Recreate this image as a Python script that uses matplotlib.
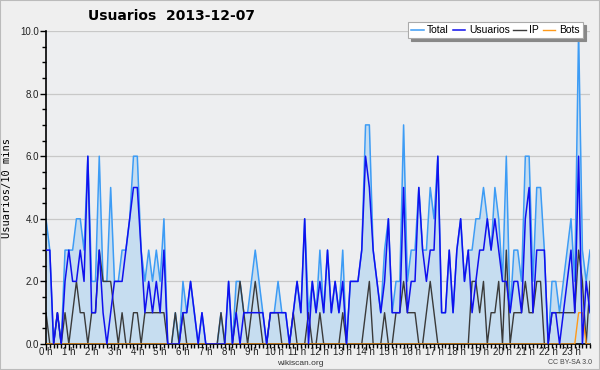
import matplotlib
matplotlib.use("Agg")
import matplotlib.pyplot as plt
from matplotlib.ticker import MultipleLocator, FixedLocator

title = "Usuarios  2013-12-07"
ylabel = "Usuarios/10 mins"
hour_labels = [f"{h} h" for h in range(24)]
series_names = ["Total", "Usuarios", "IP", "Bots"]

total = [4, 3, 0, 1, 0, 3, 3, 3, 4, 4, 3, 6, 2, 2, 6, 2, 2, 5, 2, 2,
         3, 3, 4, 6, 6, 3, 2, 3, 2, 3, 2, 4, 0, 0, 1, 0, 2, 1, 2, 1,
         0, 1, 0, 0, 0, 0, 1, 0, 2, 0, 2, 2, 1, 1, 2, 3, 2, 1, 0, 1,
         1, 2, 1, 1, 0, 1, 2, 1, 4, 1, 2, 1, 3, 1, 3, 1, 2, 1, 3, 0,
         2, 2, 2, 3, 7, 7, 3, 2, 1, 3, 4, 1, 2, 2, 7, 2, 3, 3, 5, 3,
         3, 5, 4, 6, 1, 1, 3, 1, 3, 4, 2, 3, 3, 4, 4, 5, 4, 3, 5, 4,
         2, 6, 1, 3, 3, 2, 6, 6, 2, 5, 5, 3, 0, 2, 2, 1, 2, 3, 4, 2,
         10, 3, 2, 3]
usuarios = [3, 3, 0, 1, 0, 2, 3, 2, 2, 3, 2, 6, 1, 1, 3, 1, 0, 1, 2, 2,
            2, 3, 4, 5, 5, 3, 1, 2, 1, 2, 1, 3, 0, 0, 0, 0, 1, 1, 2, 1,
            0, 1, 0, 0, 0, 0, 0, 0, 2, 0, 1, 0, 1, 1, 1, 1, 1, 1, 0, 1,
            1, 1, 1, 1, 0, 1, 2, 1, 4, 0, 2, 1, 2, 1, 3, 1, 2, 1, 2, 0,
            2, 2, 2, 3, 6, 5, 3, 2, 1, 2, 4, 1, 1, 1, 5, 1, 2, 2, 5, 3,
            2, 3, 3, 6, 1, 1, 3, 1, 3, 4, 2, 3, 1, 2, 3, 3, 4, 3, 4, 3,
            2, 2, 1, 2, 2, 1, 4, 5, 1, 3, 3, 3, 0, 1, 1, 0, 1, 2, 3, 1,
            6, 0, 2, 1]
ip = [1, 0, 0, 1, 0, 1, 0, 1, 2, 1, 1, 0, 1, 1, 3, 2, 2, 2, 1, 0,
      1, 0, 0, 1, 1, 0, 1, 1, 1, 1, 1, 1, 0, 0, 1, 0, 1, 0, 0, 0,
      0, 0, 0, 0, 0, 0, 1, 0, 0, 0, 1, 2, 1, 0, 1, 2, 1, 0, 0, 1,
      1, 1, 0, 0, 0, 1, 0, 0, 0, 1, 0, 0, 1, 0, 0, 0, 0, 0, 1, 0,
      0, 0, 0, 0, 1, 2, 0, 0, 0, 1, 0, 0, 1, 1, 2, 1, 1, 1, 0, 0,
      1, 2, 1, 0, 0, 0, 0, 0, 0, 0, 0, 0, 2, 2, 1, 2, 0, 1, 1, 2,
      0, 3, 0, 1, 1, 1, 2, 1, 1, 2, 2, 0, 0, 1, 1, 1, 1, 1, 1, 1,
      3, 2, 0, 2]
bots = [0] * 140 + [1, 1, 0, 0]

x = list(range(len(total)))

fig = plt.figure(figsize=(6, 3.7), dpi=100, facecolor="#efefef")
ax = fig.add_axes([46/600, 26/370, 544/600, 313/370])
ax.set_facecolor("#edeef0")

c_total = "#3d9cf5"
c_user = "#1010ee"
c_ip = "#3a3a3a"
c_bots = "#ff9a1a"

ax.fill_between(x, total, 0, color="#c6ddf0", zorder=1, linewidth=0)
for v in [2, 4, 6, 8, 10]:
    ax.axhline(v, color="#c8c8c8", linewidth=0.9, zorder=0.5)
ax.plot(x, total, color=c_total, linewidth=1.1, zorder=2, label=series_names[0])
ax.plot(x, usuarios, color=c_user, linewidth=1.1, zorder=3, label=series_names[1])
ax.plot(x, ip, color=c_ip, linewidth=1.0, zorder=2.5, label=series_names[2])
ax.plot(x, bots, color=c_bots, linewidth=1.0, zorder=2.6, label=series_names[3])

ax.set_xlim(0, len(total) - 1)
ax.set_ylim(0, 10)

ax.xaxis.set_major_locator(FixedLocator([h * 6 for h in range(24)]))
ax.set_xticklabels(hour_labels, family="Liberation Sans", fontsize=7)
ax.xaxis.set_minor_locator(MultipleLocator(1))
ax.yaxis.set_minor_locator(MultipleLocator(0.5))
ax.set_yticks([0, 2, 4, 6, 8, 10])
ax.set_yticklabels([f"{v:.1f}" for v in [0, 2, 4, 6, 8, 10]],
                   family="Liberation Sans", fontsize=7)

ax.tick_params(axis="x", which="major", direction="out", length=4, width=1,
               pad=-2, colors="black", labelcolor="#222222")
ax.tick_params(axis="y", which="major", direction="out", length=4, width=1,
               pad=1, colors="black", labelcolor="#222222")
ax.tick_params(axis="both", which="minor", direction="out", length=3, width=1)

for s in ["top", "right"]:
    ax.spines[s].set_visible(False)
for s in ["left", "bottom"]:
    ax.spines[s].set_linewidth(1.2)
    ax.spines[s].set_color("black")

ax.set_ylabel(ylabel, fontsize=7.5, family="DejaVu Sans Mono", labelpad=6)
fig.text(172/600, 1 - 16/370, title, fontsize=10, fontweight="bold",
         ha="center", va="center")

leg = ax.legend(loc="upper right", bbox_to_anchor=(588/600, 1 - 17/370),
                bbox_transform=fig.transFigure, ncol=4,
                prop={"family": "Liberation Sans", "size": 7.5},
                handlelength=1.2, handletextpad=0.35, columnspacing=0.35,
                borderpad=0.3, fancybox=False, framealpha=1,
                edgecolor="#aaaaaa",
                shadow={"color": "#888888", "alpha": 1, "ox": 2, "oy": -2})
leg.get_frame().set_linewidth(0.8)

fig.text(300/600, 1 - 363.5/370, "wikiscan.org", fontsize=6, ha="center",
         va="center", color="#333333", family="Liberation Sans")
fig.text(570/600, 1 - 363/370, "CC BY-SA 3.0", fontsize=5, ha="center",
         va="center", color="#444444", family="Liberation Sans")

border = plt.Rectangle((0, 0), 1, 1, transform=fig.transFigure, fill=False,
                       edgecolor="#bbbbbb", linewidth=1.5)
fig.patches.append(border)

fig.savefig("out.png", dpi=100, facecolor=fig.get_facecolor())
